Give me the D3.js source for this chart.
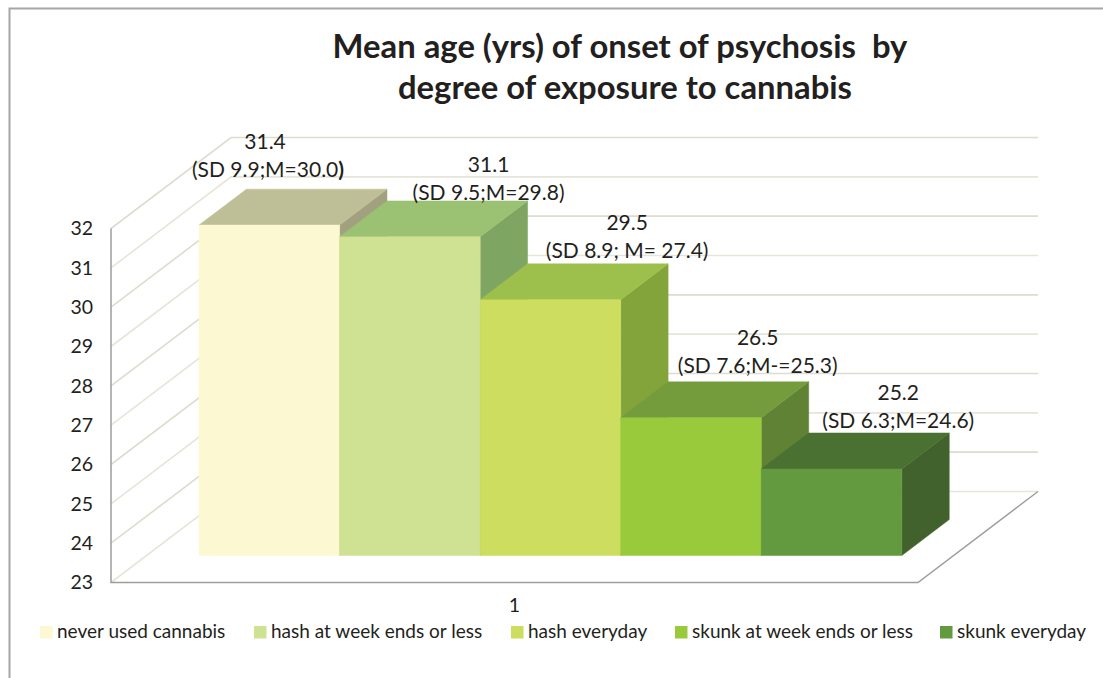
<!DOCTYPE html>
<html>
<head>
<meta charset="utf-8">
<script src="https://cdn.jsdelivr.net/npm/d3@7"></script>
<style>
  html, body { margin: 0; padding: 0; background: #fff; }
  svg { display: block; }
  text { font-family: Lato, "Open Sans", sans-serif; fill: #231f20; }
</style>
</head>
<body>
<div id="chart"></div>
<script>
const titleLines = ["Mean age (yrs) of onset of psychosis  by", "degree of exposure to cannabis"];
const categories = ["never used cannabis", "hash at week ends or less", "hash everyday", "skunk at week ends or less", "skunk everyday"];
const values = [31.4, 31.1, 29.5, 26.5, 25.2];
const valueLabels = ["31.4", "31.1", "29.5", "26.5", "25.2"];
const detailLabels = ["(SD 9.9;M=30.0", "(SD 9.5;M=29.8)", "(SD 8.9; M= 27.4)", "(SD 7.6;M-=25.3)", "(SD 6.3;M=24.6)"];
const yTicks = [23, 24, 25, 26, 27, 28, 29, 30, 31, 32];
const xTick = ["1"];

const frontColors = ["#fbf8d2", "#cfe193", "#cddd5f", "#99ca3c", "#639a3f"];
const topColors = ["#bfbf97", "#9bc173", "#9dc04d", "#749c3d", "#4b7132"];
const sideColors = ["#a1a17f", "#7fa563", "#82a43b", "#5f8235", "#41622c"];

// labels were dragged by hand in the original, so each has its own nudge
const labelNudgeX = [-25, 55, 53, 43, 43];
const labelNudgeY = [-30, -19, -24, -27, -22.5];
const legendX = [40, 254, 511, 675, 940];

const width = 1103, height = 678;

// oblique box: front plane of the floor, then depth pushes up and to the right
const y = d3.scaleLinear().domain([23, 32]).range([582.5, 228.5]);
const x = d3.scaleBand().domain(categories).range([163.4, 866.2]);
const depthX = d3.scaleLinear().domain([0, 1]).range([0, 120]);
const depthY = d3.scaleLinear().domain([0, 1]).range([0, -91]);
const floorLeft = 111, floorRight = 918;
const barFront = 0.297, barBack = 0.692;

function pt(px, val, t) {
  return [px + depthX(t), y(val) + depthY(t)];
}

const line = d3.line();

const svg = d3.select("#chart").append("svg")
  .attr("width", width)
  .attr("height", height);

// picture frame
svg.append("path")
  .attr("d", "M9.5,678V8.5H1103")
  .attr("fill", "none")
  .attr("stroke", "#a6a6a6")
  .attr("stroke-width", 2);

// title
svg.selectAll(".title").data(titleLines).join("text")
  .attr("class", "title")
  .attr("x", (d, i) => i == 0 ? 620 : 625)
  .attr("y", (d, i) => i == 0 ? 58 : 99)
  .attr("text-anchor", "middle")
  .attr("font-size", 32.8)
  .attr("font-weight", 700)
  .style("white-space", "pre")
  .text(d => d);

// walls
svg.selectAll(".grid").data(yTicks).join("path")
  .attr("class", "grid")
  .attr("d", d => line([pt(floorLeft, d, 0), pt(floorLeft, d, 1), pt(floorRight, d, 1)]))
  .attr("fill", "none")
  .attr("stroke", (d, i) => i % 2 ? "#dddcd0" : "#e6e5da")
  .attr("stroke-width", 1.6);

// floor edges and the axis line
svg.append("path")
  .attr("d", line([pt(floorLeft, 32, 0), pt(floorLeft, 23, 0), pt(floorRight, 23, 0), pt(floorRight, 23, 1)]))
  .attr("fill", "none")
  .attr("stroke", "#9d9d9d")
  .attr("stroke-width", 1.5);

// bars, left to right so each one covers the side of the previous
const bars = svg.selectAll(".bar").data(categories).join("g").attr("class", "bar");

function face(sel, color, corners) {
  sel.append("path")
    .attr("d", (d, i) => line(corners(d, i)) + "Z")
    .attr("fill", (d, i) => color[i])
    .attr("stroke", (d, i) => color[i])
    .attr("stroke-width", 0.5);
}

face(bars, sideColors, (d, i) => {
  const r = x(d) + x.bandwidth();
  return [pt(r, 23, barFront), pt(r, values[i], barFront), pt(r, values[i], barBack), pt(r, 23, barBack)];
});
face(bars, topColors, (d, i) => {
  const l = x(d), r = l + x.bandwidth();
  return [pt(l, values[i], barFront), pt(r, values[i], barFront), pt(r, values[i], barBack), pt(l, values[i], barBack)];
});
face(bars, frontColors, (d, i) => {
  const l = x(d), r = l + x.bandwidth();
  return [pt(l, 23, barFront), pt(r, 23, barFront), pt(r, values[i], barFront), pt(l, values[i], barFront)];
});

// value labels
const midDepth = (barFront + barBack) / 2;
const labels = svg.selectAll(".label").data(categories).join("text")
  .attr("class", "label")
  .attr("text-anchor", "middle")
  .attr("font-size", 21);

function labelPos(d, i) {
  const p = pt(x(d) + x.bandwidth() / 2, values[i], midDepth);
  return [p[0] + labelNudgeX[i], p[1] + labelNudgeY[i]];
}

labels.append("tspan")
  .attr("x", (d, i) => labelPos(d, i)[0] - (i == 0 ? 3 : 0))
  .attr("y", (d, i) => labelPos(d, i)[1] - 28)
  .text((d, i) => valueLabels[i]);

labels.append("tspan")
  .attr("x", (d, i) => labelPos(d, i)[0])
  .attr("y", (d, i) => labelPos(d, i)[1])
  .text((d, i) => detailLabels[i]);

// the first label ends in a bold bracket in the original
labels.filter((d, i) => i == 0).append("tspan")
  .attr("font-weight", 700)
  .text(")");

// y axis
const yAxis = svg.append("g")
  .attr("transform", `translate(${floorLeft},0)`)
  .call(d3.axisLeft(y).tickValues(yTicks).tickFormat(d3.format("d")).tickSize(0).tickPadding(18));
yAxis.select(".domain").remove();
yAxis.selectAll("text")
  .attr("font-size", 19.5)
  .style("font-family", "Lato")
  .style("fill", "#231f20");

// single category tick
const xAxisScale = d3.scaleBand().domain(xTick).range([floorLeft, floorRight]);
const xAxis = svg.append("g")
  .attr("transform", "translate(0,582)")
  .call(d3.axisBottom(xAxisScale).tickSize(0).tickPadding(16));
xAxis.select(".domain").remove();
xAxis.selectAll("text")
  .attr("font-size", 19.5)
  .style("font-family", "Lato")
  .style("fill", "#231f20");

// legend
const legend = svg.selectAll(".legend").data(categories).join("g")
  .attr("class", "legend")
  .attr("transform", (d, i) => `translate(${legendX[i]},626)`);
legend.append("rect")
  .attr("width", 12.5)
  .attr("height", 12.5)
  .attr("fill", (d, i) => frontColors[i]);
legend.append("text")
  .attr("x", 17)
  .attr("y", 12)
  .attr("font-size", 19)
  .text(d => d);
</script>
</body>
</html>
